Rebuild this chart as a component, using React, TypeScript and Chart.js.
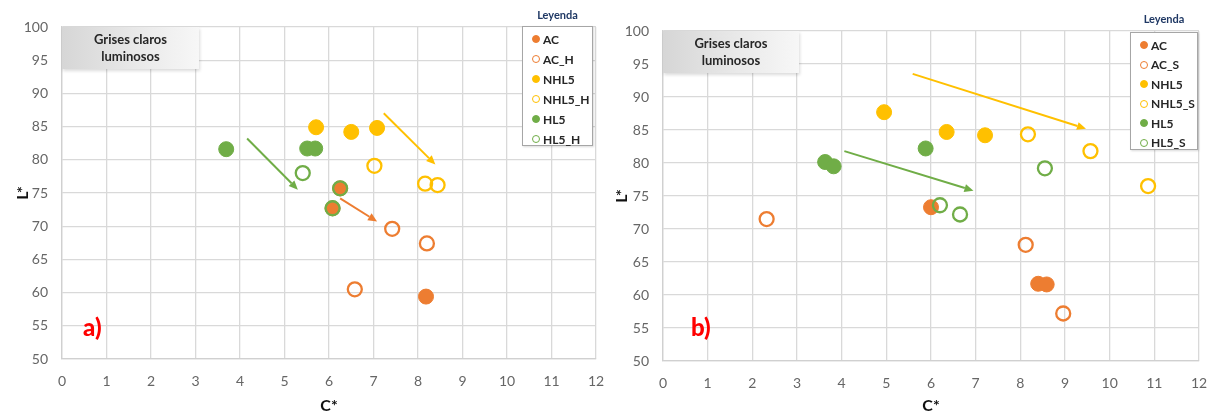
import React, { useEffect, useRef } from "react";
import { Chart, registerables } from "chart.js";
Chart.register(...registerables);

// ---------- shared ----------
const X_TICKS = [0, 1, 2, 3, 4, 5, 6, 7, 8, 9, 10, 11, 12];
const Y_TICKS = [50, 55, 60, 65, 70, 75, 80, 85, 90, 95, 100];
const COL_AC = "#ED7D31";
const COL_NHL5 = "#FFC000";
const COL_HL5 = "#70AD47";

// ---------- panel a) ----------
const A_SERIES = ["AC", "AC_H", "NHL5", "NHL5_H", "HL5", "HL5_H"];
const aAC_C = [6.25, 6.08, 8.18];
const aAC_L = [75.7, 72.7, 59.4];
const aACH_C = [7.42, 8.2, 6.58];
const aACH_L = [69.6, 67.4, 60.5];
const aNHL5_C = [5.71, 6.5, 7.08];
const aNHL5_L = [84.9, 84.2, 84.8];
const aNHL5H_C = [7.02, 8.16, 8.44];
const aNHL5H_L = [79.1, 76.4, 76.2];
const aHL5_C = [3.69, 5.51, 5.69];
const aHL5_L = [81.6, 81.7, 81.7];
const aHL5H_C = [5.41, 6.25, 6.08];
const aHL5H_L = [78.0, 75.7, 72.7];
// arrows: [fromC, fromL, toC, toL]
const aArrowHL5 = [4.16, 83.2, 5.3, 75.5];
const aArrowAC = [6.25, 74.2, 7.08, 70.7];
const aArrowNHL5 = [7.23, 87.0, 8.39, 79.3];

// ---------- panel b) ----------
const B_SERIES = ["AC", "AC_S", "NHL5", "NHL5_S", "HL5", "HL5_S"];
const bAC_C = [6.0, 8.4, 8.59];
const bAC_L = [73.3, 61.7, 61.6];
const bACS_C = [2.32, 8.12, 8.96];
const bACS_L = [71.5, 67.6, 57.2];
const bNHL5_C = [4.95, 6.35, 7.21];
const bNHL5_L = [87.7, 84.7, 84.2];
const bNHL5S_C = [8.17, 9.57, 10.86];
const bNHL5S_L = [84.35, 81.8, 76.5];
const bHL5_C = [3.63, 3.82, 5.88];
const bHL5_L = [80.15, 79.5, 82.2];
const bHL5S_C = [6.2, 6.65, 8.55];
const bHL5S_L = [73.6, 72.2, 79.2];
const bArrowHL5 = [4.06, 81.8, 6.95, 75.8];
const bArrowNHL5 = [5.59, 93.5, 9.47, 85.2];

const FONT = "Lato, 'Open Sans', sans-serif";

function pts(c: number[], l: number[]) {
  return c.map((v, i) => ({ x: v, y: l[i] }));
}

function ds(label: string, c: number[], l: number[], color: string, open: boolean, idx: number) {
  return {
    label,
    data: pts(c, l),
    order: 10 - idx,
    pointRadius: open ? 7 : 7.5,
    pointHoverRadius: open ? 7 : 7.5,
    pointBorderWidth: open ? 2.3 : 1,
    pointBorderColor: color,
    pointBackgroundColor: open ? "rgba(255,255,255,0)" : color,
    borderColor: color,
    backgroundColor: open ? "rgba(255,255,255,0)" : color,
    showLine: false,
  };
}

const arrowPlugin = {
  id: "arrows",
  beforeDatasetsDraw(chart: any, _args: any, opts: any) {
    const { ctx } = chart;
    const xs = chart.scales.x;
    const ys = chart.scales.y;
    (opts.list || []).forEach((a: any) => {
      const x1 = xs.getPixelForValue(a.p[0]);
      const y1 = ys.getPixelForValue(a.p[1]);
      const x2 = xs.getPixelForValue(a.p[2]);
      const y2 = ys.getPixelForValue(a.p[3]);
      const ang = Math.atan2(y2 - y1, x2 - x1);
      const hl = 9;
      const hw = 4;
      const bx = x2 - hl * Math.cos(ang);
      const by = y2 - hl * Math.sin(ang);
      ctx.save();
      ctx.strokeStyle = a.color;
      ctx.fillStyle = a.color;
      ctx.lineWidth = 2;
      ctx.beginPath();
      ctx.moveTo(x1, y1);
      ctx.lineTo(bx, by);
      ctx.stroke();
      ctx.beginPath();
      ctx.moveTo(x2, y2);
      ctx.lineTo(bx + hw * Math.sin(ang), by - hw * Math.cos(ang));
      ctx.lineTo(bx - hw * Math.sin(ang), by + hw * Math.cos(ang));
      ctx.closePath();
      ctx.fill();
      ctx.restore();
    });
  },
};

type PanelCfg = {
  datasets: any[];
  arrows: any[];
  padTop: number;
  padRight: number;
  yWidth: number;
  xHeight: number;
  yTitlePad: number;
};

function ScatterPanel({ cfg, left }: { cfg: PanelCfg; left: number }) {
  const ref = useRef<HTMLCanvasElement | null>(null);
  useEffect(() => {
    if (!ref.current) return;
    const chart = new Chart(ref.current, {
      type: "scatter",
      data: { datasets: cfg.datasets },
      plugins: [arrowPlugin],
      options: {
        animation: false,
        responsive: false,
        maintainAspectRatio: false,
        layout: { padding: { top: cfg.padTop, right: cfg.padRight, left: 0, bottom: 0 } },
        plugins: {
          legend: { display: false },
          tooltip: { enabled: false },
          arrows: { list: cfg.arrows },
        } as any,
        scales: {
          x: {
            type: "linear",
            min: 0,
            max: 12,
            afterBuildTicks: (s: any) => {
              s.ticks = X_TICKS.map((v) => ({ value: v }));
            },
            afterFit: (s: any) => {
              s.height = cfg.xHeight;
              s.paddingLeft = 0;
              s.paddingRight = 0;
            },
            grid: { color: "#d9d9d9", lineWidth: 1.3, drawTicks: false },
            border: { color: "#d0d0d0", width: 1.3 },
            ticks: { padding: 14, color: "#666666", font: { family: FONT, size: 14 } },
            title: {
              display: true,
              text: "C*",
              color: "#111111",
              font: { family: FONT, size: 16, weight: "bold" },
              padding: { top: 2, bottom: 2 },
            },
          },
          y: {
            type: "linear",
            min: 50,
            max: 100,
            afterBuildTicks: (s: any) => {
              s.ticks = Y_TICKS.map((v) => ({ value: v }));
            },
            afterFit: (s: any) => {
              s.width = cfg.yWidth;
              s.paddingTop = 0;
              s.paddingBottom = 0;
            },
            grid: { color: "#d9d9d9", lineWidth: 1.3, drawTicks: false },
            border: { color: "#d0d0d0", width: 1.3 },
            ticks: { padding: 14, color: "#666666", font: { family: FONT, size: 14 } },
            title: {
              display: true,
              text: "L*",
              color: "#111111",
              font: { family: FONT, size: 16, weight: "bold" },
              padding: { top: cfg.yTitlePad, bottom: 0 },
            },
          },
        },
      } as any,
    });
    return () => chart.destroy();
  }, []);
  return (
    <canvas
      ref={ref}
      width={607}
      height={417}
      style={{ position: "absolute", left, top: 0, width: 607, height: 417 }}
    />
  );
}

function LabelBox({ left, top, width, height }: any) {
  return (
    <div
      style={{
        position: "absolute",
        left,
        top,
        width,
        height,
        background: "linear-gradient(to right, #d6d6d6 0%, #e9e9e9 55%, #f7f7f7 100%)",
        boxShadow: "1px 2px 3px rgba(0,0,0,0.14)",
        display: "flex",
        flexDirection: "column",
        alignItems: "center",
        justifyContent: "center",
        fontFamily: FONT,
        fontWeight: 700,
        fontSize: 13,
        lineHeight: "17px",
        color: "#262626",
        textAlign: "center",
      }}
    >
      <div>Grises claros</div>
      <div>luminosos</div>
    </div>
  );
}

function Legend({ left, top, width, height, titleTop, rowGap, labels }: any) {
  const cols = [COL_AC, COL_AC, COL_NHL5, COL_NHL5, COL_HL5, COL_HL5];
  return (
    <>
      <div
        style={{
          position: "absolute",
          left,
          top: titleTop,
          width,
          textAlign: "center",
          fontFamily: FONT,
          fontWeight: 700,
          fontSize: 11,
          color: "#1F3864",
        }}
      >
        Leyenda
      </div>
      <div
        style={{
          position: "absolute",
          left,
          top,
          width,
          height,
          background: "#ffffff",
          border: "1px solid #a6a6a6",
          boxSizing: "border-box",
          boxShadow: "1px 1px 2px rgba(0,0,0,0.15)",
        }}
      >
        {labels.map((lab: string, i: number) => (
          <div
            key={lab}
            style={{
              position: "absolute",
              left: 9,
              top: 4 + i * rowGap,
              height: 16,
              display: "flex",
              alignItems: "center",
              fontFamily: FONT,
              fontWeight: 700,
              fontSize: 12,
              color: "#262626",
            }}
          >
            <span
              style={{
                display: "inline-block",
                width: 8,
                height: 8,
                borderRadius: 4,
                boxSizing: "border-box",
                background: i % 2 === 0 ? cols[i] : "transparent",
                border: `1.6px solid ${cols[i]}`,
                marginRight: 3,
              }}
            />
            {lab}
          </div>
        ))}
      </div>
    </>
  );
}

const panelA: PanelCfg = {
  datasets: [
    ds(A_SERIES[0], aAC_C, aAC_L, COL_AC, false, 0),
    ds(A_SERIES[1], aACH_C, aACH_L, COL_AC, true, 1),
    ds(A_SERIES[2], aNHL5_C, aNHL5_L, COL_NHL5, false, 2),
    ds(A_SERIES[3], aNHL5H_C, aNHL5H_L, COL_NHL5, true, 3),
    ds(A_SERIES[4], aHL5_C, aHL5_L, COL_HL5, false, 4),
    ds(A_SERIES[5], aHL5H_C, aHL5H_L, COL_HL5, true, 5),
  ],
  arrows: [
    { p: aArrowHL5, color: COL_HL5 },
    { p: aArrowAC, color: COL_AC },
    { p: aArrowNHL5, color: COL_NHL5 },
  ],
  padTop: 27,
  padRight: 11,
  yWidth: 62,
  xHeight: 58,
  yTitlePad: 13,
};

const panelB: PanelCfg = {
  datasets: [
    ds(B_SERIES[0], bAC_C, bAC_L, COL_AC, false, 0),
    ds(B_SERIES[1], bACS_C, bACS_L, COL_AC, true, 1),
    ds(B_SERIES[2], bNHL5_C, bNHL5_L, COL_NHL5, false, 2),
    ds(B_SERIES[3], bNHL5S_C, bNHL5S_L, COL_NHL5, true, 3),
    ds(B_SERIES[4], bHL5_C, bHL5_L, COL_HL5, false, 4),
    ds(B_SERIES[5], bHL5S_C, bHL5S_L, COL_HL5, true, 5),
  ],
  arrows: [
    { p: bArrowHL5, color: COL_HL5 },
    { p: bArrowNHL5, color: COL_NHL5 },
  ],
  padTop: 31,
  padRight: 15,
  yWidth: 56,
  xHeight: 56,
  yTitlePad: 5,
};

export default function App() {
  return (
    <div
      style={{
        position: "absolute",
        left: 0,
        top: 0,
        width: 1214,
        height: 417,
        background: "#ffffff",
        overflow: "hidden",
      }}
    >
      <ScatterPanel cfg={panelA} left={0} />
      <ScatterPanel cfg={panelB} left={607} />
      <LabelBox left={62} top={27} width={137} height={42} />
      <LabelBox left={663} top={31} width={136} height={42} />
      <Legend left={522} top={26} width={71} height={120} titleTop={8} rowGap={20} labels={A_SERIES} />
      <Legend left={1130} top={32} width={68} height={118} titleTop={12} rowGap={19.5} labels={B_SERIES} />
      <div
        style={{
          position: "absolute",
          left: 83,
          top: 312,
          fontFamily: FONT,
          fontWeight: 900,
          fontSize: 24,
          color: "#FF0000",
        }}
      >
        a)
      </div>
      <div
        style={{
          position: "absolute",
          left: 691,
          top: 312,
          fontFamily: FONT,
          fontWeight: 900,
          fontSize: 24,
          color: "#FF0000",
        }}
      >
        b)
      </div>
    </div>
  );
}
